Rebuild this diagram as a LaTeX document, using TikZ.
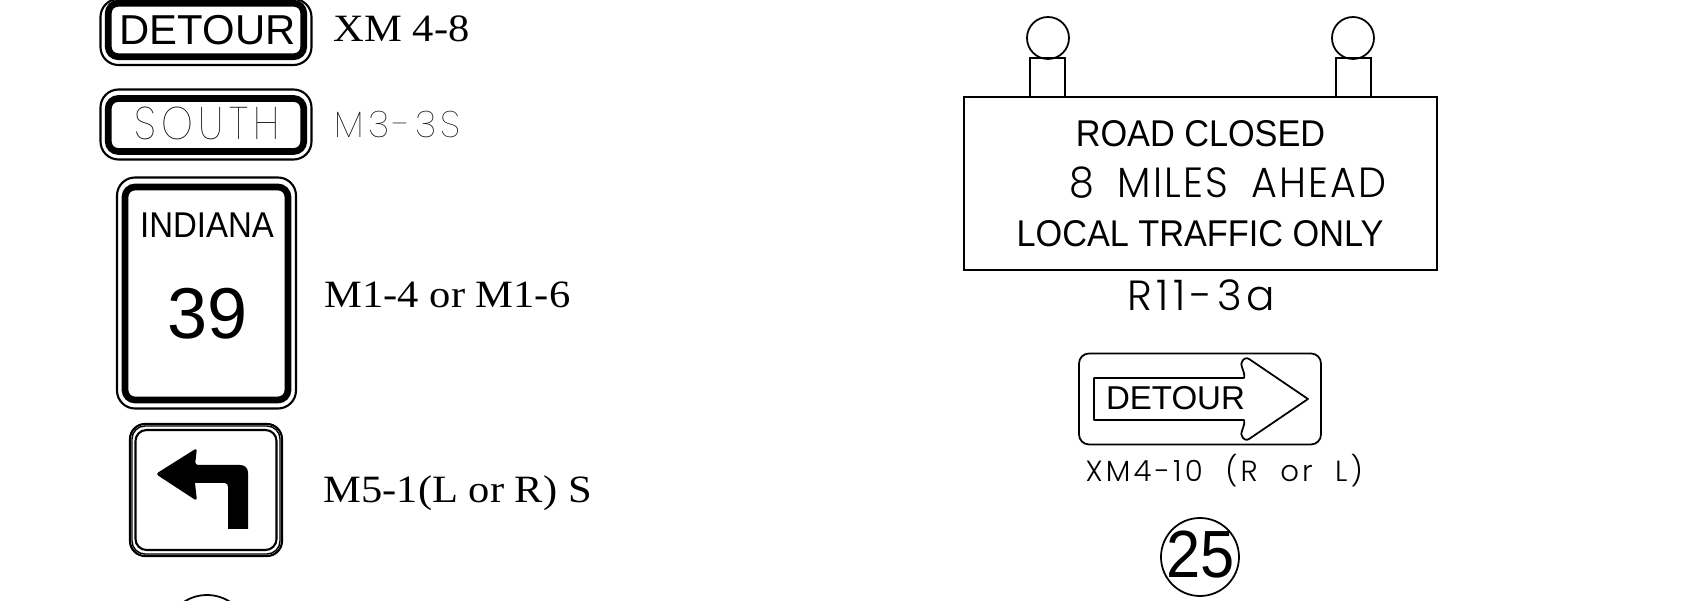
\documentclass[tikz,border=0pt]{standalone}
\usepackage{fontspec}
\setmainfont{Liberation Sans}
\newfontfamily\labelfont[FakeStretch=1.1]{Liberation Serif}
\newfontfamily\panelfont[FakeStretch=.92]{Liberation Sans}
\newfontfamily\thinfont[LetterSpace=12]{Poppins Thin}
\newfontfamily\southfont[LetterSpace=12,FakeStretch=.88]{Poppins Thin}
\newfontfamily\lightfont[LetterSpace=5,WordSpace=1.8,FakeStretch=.94]{Poppins Light}
\newfontfamily\codefont[LetterSpace=11,WordSpace=2]{Poppins Light}
\tikzset{
	rim/.style={draw=black,line width=.6pt,rounded corners=1.8mm,inner sep=0pt},
	band/.style={draw=black,line width=1.9pt,rounded corners=1mm,inner sep=0pt},
	plain/.style={draw=black,line width=.5pt,inner sep=0pt},
	signtext/.style={inner sep=0pt,anchor=base},
	codetext/.style={inner sep=0pt,anchor=base west,font=\labelfont\fontsize{11}{13}\selectfont},
}
\begin{document}
\begin{tikzpicture}
	\clip (0,0) rectangle (16.93,-6.01);
	\useasboundingbox (0,0) rectangle (16.93,-6.01);
	% left column
	\node[rim,minimum width=2.11cm,minimum height=.66cm] (detourrim) at (2.06,-.32) {};
	\node[band,minimum width=1.955cm,minimum height=.535cm] (detourband) at (2.06,-.30) {};
	\node[signtext,font=\fontsize{11.9}{13}\selectfont] (detourtext) at (2.075,-.45) {DETOUR};
	\node[codetext] (detourcode) at (3.33,-.42) {XM 4-8};
	\node[rim,minimum width=2.11cm,minimum height=.70cm] (southrim) at (2.06,-1.245) {};
	\node[band,minimum width=1.955cm,minimum height=.53cm] (southband) at (2.06,-1.25) {};
	\node[signtext,font=\southfont\fontsize{13}{15}\selectfont] (southtext) at (2.07,-1.40) {SOUTH};
	\node[codetext,font=\thinfont\fontsize{10.5}{13}\selectfont] (southcode) at (3.34,-1.38) {M3-3S};
	\node[rim,minimum width=1.79cm,minimum height=2.31cm] (indianarim) at (2.065,-2.93) {};
	\node[band,minimum width=1.63cm,minimum height=2.13cm] (indianaband) at (2.065,-2.935) {};
	\node[signtext,font=\panelfont\fontsize{10.2}{12}\selectfont] (indianatext) at (2.07,-2.38) {INDIANA};
	\node[signtext,font=\fontsize{20.5}{24}\selectfont] (routetext) at (2.075,-3.39) {39};
	\node[codetext] (indianacode) at (3.24,-3.077) {M1-4 or M1-6};
	\node[rim,minimum width=1.52cm,minimum height=1.32cm,rounded corners=1.5mm] (arrowrim) at (2.06,-4.90) {};
	\node[rim,line width=.4pt,minimum width=1.48cm,minimum height=1.28cm,rounded corners=1.3mm] (arrowrimb) at (2.06,-4.90) {};
	\node[rim,minimum width=1.41cm,minimum height=1.20cm,rounded corners=1.1mm] (arrowrimc) at (2.06,-4.90) {};
	\fill[black,rounded corners=.3mm] (1.557,-4.74) -- (1.97,-4.48) -- (1.95,-4.65) [sharp corners] -- (2.40,-4.65)
		.. controls (2.45,-4.65) and (2.48,-4.68) .. (2.48,-4.73) -- (2.48,-5.29) -- (2.28,-5.29) -- (2.28,-4.87)
		.. controls (2.28,-4.85) and (2.27,-4.83) .. (2.25,-4.83) -- (1.95,-4.83) [rounded corners=.3mm] -- (1.97,-5.01) -- cycle;
	\node[codetext] (arrowcode) at (3.23,-5.03) {M5-1(L or R) S};
	\node[draw=black,line width=.5pt,circle,inner sep=0pt,minimum size=.84cm] (roundsign) at (2.07,-6.37) {};
	% right column
	\node[plain,minimum width=4.73cm,minimum height=1.73cm] (closedsign) at (12.005,-1.835) {};
	\node[plain,minimum width=.35cm,minimum height=.39cm] (leftpost) at (10.475,-.775) {};
	\node[plain,minimum width=.35cm,minimum height=.39cm] (rightpost) at (13.535,-.775) {};
	\node[plain,circle,minimum size=.42cm] (leftlamp) at (10.48,-.38) {};
	\node[plain,circle,minimum size=.42cm] (rightlamp) at (13.53,-.38) {};
	\node[signtext,font=\panelfont\fontsize{10.6}{13}\selectfont] (closedtop) at (12.005,-1.47) {ROAD CLOSED};
	\node[signtext,anchor=base west,font=\lightfont\fontsize{12}{14}\selectfont] (closedmid) at (10.69,-1.98) {8 MILES AHEAD};
	\node[signtext,font=\panelfont\fontsize{10.6}{13}\selectfont] (closedbot) at (12.00,-2.47) {LOCAL TRAFFIC ONLY};
	\node[signtext,font=\codefont\fontsize{12}{14}\selectfont] (closedcode) at (12.01,-3.11) {R11-3a};
	\node[plain,rounded corners=1mm,minimum width=2.42cm,minimum height=.91cm] (arrowpanel) at (12.00,-3.99) {};
	\draw[line width=.5pt,line join=round] (10.94,-3.78) -- (12.44,-3.78) .. controls (12.46,-3.72) and (12.38,-3.64) .. (12.43,-3.60)
		.. controls (12.46,-3.57) and (12.48,-3.58) .. (12.52,-3.61) -- (13.08,-3.99) -- (12.52,-4.37)
		.. controls (12.48,-4.40) and (12.46,-4.41) .. (12.43,-4.38) .. controls (12.38,-4.34) and (12.46,-4.26) .. (12.44,-4.20)
		-- (10.94,-4.20) -- cycle;
	\node[signtext,font=\fontsize{9.4}{11}\selectfont] (arrowtext) at (11.755,-4.10) {DETOUR};
	\node[signtext,anchor=base west,font=\codefont\fontsize{8.3}{10}\selectfont] (panelcode) at (10.85,-4.82) {XM4-10 (R or L)};
	\node[plain,circle,minimum size=.78cm] (speedsign) at (12.00,-5.57) {};
	\node[signtext,font=\panelfont\fontsize{19}{21}\selectfont] (speedtext) at (12.005,-5.78) {25};
\end{tikzpicture}
\end{document}
